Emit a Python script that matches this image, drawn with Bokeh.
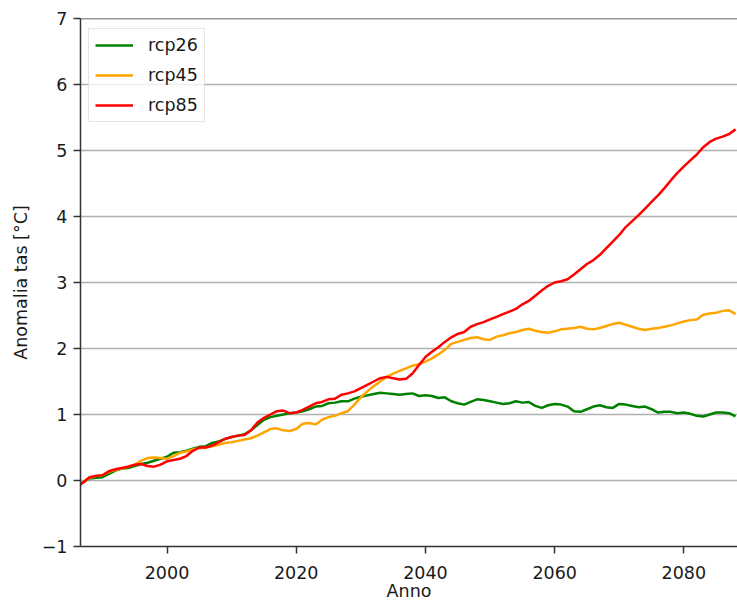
from bokeh.plotting import figure
from bokeh.models import Span, FixedTicker, Range1d, Legend, LegendItem
from bokeh.embed import file_html
from bokeh.resources import INLINE

years = list(range(1986, 2089))

rcp26 = [-0.10, -0.03, 0.03, 0.04, 0.05, 0.10, 0.15, 0.18, 0.19, 0.22,
         0.25, 0.27, 0.30, 0.33, 0.36, 0.42, 0.43, 0.45, 0.48, 0.51,
         0.52, 0.57, 0.59, 0.63, 0.66, 0.68, 0.70, 0.76, 0.84, 0.92,
         0.96, 0.98, 1.00, 1.02, 1.03, 1.05, 1.08, 1.12, 1.13, 1.17,
         1.18, 1.20, 1.20, 1.24, 1.27, 1.29, 1.31, 1.33, 1.32, 1.31,
         1.30, 1.31, 1.32, 1.28, 1.29, 1.28, 1.25, 1.26, 1.20, 1.17,
         1.15, 1.19, 1.23, 1.22, 1.20, 1.18, 1.16, 1.17, 1.20, 1.18,
         1.19, 1.13, 1.10, 1.14, 1.16, 1.15, 1.12, 1.05, 1.04, 1.08,
         1.12, 1.14, 1.11, 1.10, 1.16, 1.15, 1.13, 1.11, 1.12, 1.08,
         1.03, 1.04, 1.04, 1.02, 1.03, 1.01, 0.98, 0.97, 1.00, 1.03,
         1.03, 1.02, 0.97]

rcp45 = [-0.10, -0.03, 0.04, 0.07, 0.08, 0.13, 0.16, 0.18, 0.21, 0.24,
         0.30, 0.34, 0.35, 0.34, 0.33, 0.37, 0.42, 0.44, 0.47, 0.49,
         0.50, 0.52, 0.54, 0.57, 0.58, 0.60, 0.62, 0.64, 0.68, 0.73,
         0.78, 0.79, 0.76, 0.75, 0.78, 0.86, 0.87, 0.85, 0.92, 0.96,
         0.98, 1.02, 1.05, 1.15, 1.26, 1.35, 1.43, 1.50, 1.57, 1.62,
         1.66, 1.70, 1.74, 1.76, 1.80, 1.85, 1.91, 1.98, 2.07, 2.10,
         2.13, 2.16, 2.17, 2.14, 2.13, 2.18, 2.20, 2.23, 2.25, 2.28,
         2.30, 2.27, 2.25, 2.24, 2.26, 2.29, 2.30, 2.31, 2.33, 2.30,
         2.29, 2.31, 2.34, 2.37, 2.39, 2.36, 2.33, 2.30, 2.28, 2.30,
         2.31, 2.33, 2.35, 2.38, 2.41, 2.43, 2.44, 2.51, 2.53, 2.54,
         2.57, 2.58, 2.52]

rcp85 = [-0.10, -0.03, 0.05, 0.07, 0.08, 0.14, 0.17, 0.19, 0.21, 0.24,
         0.25, 0.22, 0.21, 0.24, 0.29, 0.31, 0.33, 0.37, 0.45, 0.50,
         0.50, 0.53, 0.58, 0.63, 0.66, 0.68, 0.69, 0.76, 0.88, 0.95,
         1.00, 1.05, 1.06, 1.02, 1.03, 1.07, 1.12, 1.17, 1.19, 1.23,
         1.24, 1.30, 1.32, 1.35, 1.40, 1.45, 1.50, 1.55, 1.57, 1.55,
         1.53, 1.54, 1.62, 1.75, 1.87, 1.95, 2.02, 2.10, 2.17, 2.22,
         2.25, 2.33, 2.37, 2.40, 2.44, 2.48, 2.52, 2.56, 2.60, 2.67,
         2.72, 2.80, 2.88, 2.95, 3.00, 3.02, 3.05, 3.12, 3.20, 3.28,
         3.34, 3.42, 3.52, 3.62, 3.72, 3.84, 3.93, 4.02, 4.12, 4.22,
         4.32, 4.43, 4.55, 4.66, 4.76, 4.85, 4.94, 5.05, 5.13, 5.18,
         5.21, 5.25, 5.32]

series_names = ["rcp26", "rcp45", "rcp85"]
series_colors = ["#008000", "#FFA500", "#FF0000"]
x_ticks = [2000, 2020, 2040, 2060, 2080]
y_ticks = [-1, 0, 1, 2, 3, 4, 5, 6, 7]
x_title = "Anno"
y_title = "Anomalia tas [°C]"

FONT = "DejaVu Sans"
FS = "17.5px"
DARK = "#333333"
TXT = "#1a1a1a"

p = figure(width=737, height=603, output_backend="svg", toolbar_location=None,
           x_range=Range1d(1986.61, 2088.3), y_range=Range1d(-1, 7),
           min_border_left=80, min_border_right=0, min_border_top=18,
           min_border_bottom=57)
p.outline_line_color = None
p.background_fill_color = "white"
p.border_fill_color = "white"

items = []
for name, col, data in zip(series_names, series_colors, [rcp26, rcp45, rcp85]):
    r = p.line(years, data, line_color=col, line_width=2.5)
    items.append(LegendItem(label=name, renderers=[r]))

p.xgrid.visible = False
p.ygrid.grid_line_color = "#b0b0b0"
p.ygrid.grid_line_width = 1.5
p.ygrid.ticker = FixedTicker(ticks=y_ticks)

p.xaxis.ticker = FixedTicker(ticks=x_ticks)
p.yaxis.ticker = FixedTicker(ticks=y_ticks)
p.yaxis.major_label_overrides = {-1: "\u22121"}
for ax in (p.xaxis[0], p.yaxis[0]):
    ax.axis_line_color = DARK
    ax.axis_line_width = 1.5
    ax.major_tick_line_color = DARK
    ax.major_tick_line_width = 1.5
    ax.major_tick_out = 7
    ax.major_tick_in = 0
    ax.minor_tick_line_color = None
    ax.major_label_text_font = FONT
    ax.major_label_text_font_size = FS
    ax.major_label_text_color = TXT
    ax.axis_label_text_font = FONT
    ax.axis_label_text_font_size = FS
    ax.axis_label_text_font_style = "normal"
    ax.axis_label_text_color = TXT
p.xaxis.major_label_standoff = 12
p.xaxis.axis_label = x_title
p.xaxis.axis_label_standoff = -1
p.yaxis.major_label_standoff = 6
p.yaxis.axis_label = y_title
p.yaxis.axis_label_standoff = 8

p.add_layout(Span(location=7, dimension="width", line_color=DARK, line_width=1.5))

legend = Legend(items=items, location=(8, 424))
legend.label_text_font = FONT
legend.label_text_font_size = FS
legend.label_text_color = TXT
legend.glyph_width = 38
legend.glyph_height = 20
legend.label_height = 20
legend.label_standoff = 15
legend.spacing = 10
legend.padding = 6
legend.border_line_color = "#cccccc"
legend.border_line_width = 1.5
legend.background_fill_alpha = 0.8
p.add_layout(legend)

open("out.html", "w").write(file_html(p, INLINE))
